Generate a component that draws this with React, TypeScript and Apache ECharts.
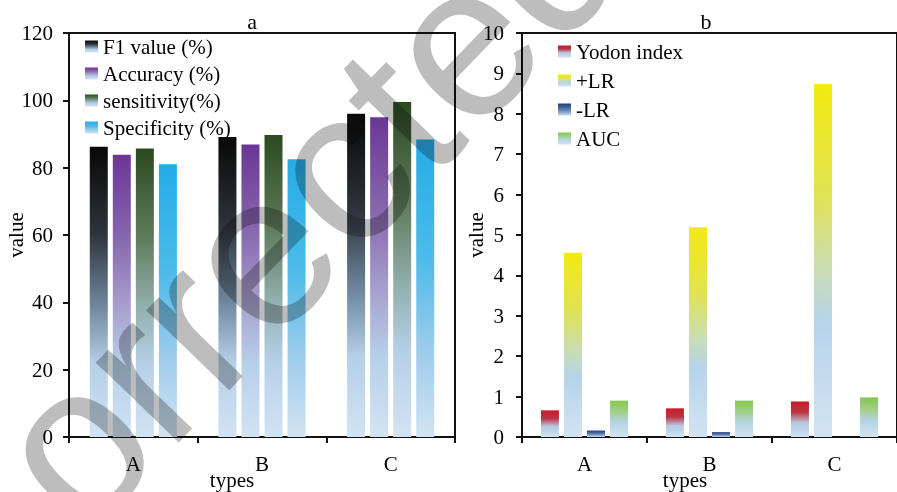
import React, { useEffect, useRef } from "react";
import * as echarts from "echarts";

const categories = ["A", "B", "C"];
const seriesNamesA = ["F1 value (%)", "Accuracy (%)", "sensitivity(%)", "Specificity (%)"];
const f1Value = [86.2, 89.1, 96.0];
const accuracy = [83.8, 86.9, 95.0];
const sensitivity = [85.7, 89.7, 99.5];
const specificity = [81.0, 82.5, 88.4];
const seriesNamesB = ["Yodon index", "+LR", "-LR", "AUC"];
const yodonIndex = [0.66, 0.71, 0.88];
const plusLR = [4.56, 5.19, 8.74];
const minusLR = [0.16, 0.12, 0];
const auc = [0.9, 0.9, 0.98];
const ticksA = { min: 0, max: 120, interval: 20 };
const ticksB = { min: 0, max: 10, interval: 1 };

const SERIF = '"Liberation Serif", "Times New Roman", serif';
const INK = "#111";

const grad = (stops: [number, string][]) =>
  new echarts.graphic.LinearGradient(
    0, 0, 0, 1,
    stops.map(([offset, color]) => ({ offset, color }))
  );

const colorsA = [
  grad([[0, "#080808"], [0.3, "#2e343c"], [0.55, "#6f889f"], [0.75, "#b4cfe7"], [1, "#d2e3f3"]]),
  grad([[0, "#6b3696"], [0.3, "#8868ae"], [0.55, "#a8a2d0"], [0.75, "#b6d0ea"], [1, "#d2e3f3"]]),
  grad([[0, "#2c4a20"], [0.3, "#5c7a58"], [0.55, "#92b0ae"], [0.75, "#b6d0e8"], [1, "#d2e3f3"]]),
  grad([[0, "#24ace6"], [0.4, "#4dbbea"], [0.7, "#9ccbec"], [1, "#d2e3f3"]]),
];
const colorsB = [
  grad([[0, "#c81c26"], [0.3, "#bc3444"], [0.6, "#bcc6de"], [0.75, "#b8d2ea"], [1, "#d2e3f3"]]),
  grad([[0, "#f2ea10"], [0.3, "#e2e250"], [0.55, "#c6dcbc"], [0.67, "#b6d3ea"], [1, "#d2e3f3"]]),
  grad([[0, "#1d3b7c"], [0.5, "#5a7ab0"], [1, "#c4daf0"]]),
  grad([[0, "#80c84c"], [0.3, "#a0cf88"], [0.6, "#b6d4e4"], [1, "#d2e3f3"]]),
];

const axisText = { fontFamily: SERIF, fontSize: 21, color: "#000" };

function xAxisFor(gridIndex: number) {
  return {
    type: "category",
    gridIndex,
    data: categories,
    axisLine: { show: true, lineStyle: { color: INK, width: 2 } },
    axisTick: { show: true, length: 6, lineStyle: { color: INK, width: 2 } },
    axisLabel: { ...axisText, margin: 16 },
    splitLine: { show: false },
  };
}

function yAxisFor(gridIndex: number, t: { min: number; max: number; interval: number }, margin: number) {
  return {
    type: "value",
    gridIndex,
    min: t.min,
    max: t.max,
    interval: t.interval,
    axisLine: { show: true, lineStyle: { color: INK, width: 2 } },
    axisTick: { show: true, length: 6, lineStyle: { color: INK, width: 2 } },
    axisLabel: { ...axisText, margin },
    splitLine: { show: false },
  };
}

function barSeries(name: string, data: number[], color: any, idx: number) {
  return {
    type: "bar",
    name,
    data,
    xAxisIndex: idx,
    yAxisIndex: idx,
    barWidth: 18,
    barGap: "28%",
    itemStyle: { color },
  };
}

function label(text: string, x: number, y: number, rotation = 0, size = 21) {
  return {
    type: "text",
    x,
    y,
    rotation,
    z: 10,
    style: {
      text,
      fontFamily: SERIF,
      fontSize: size,
      fill: "#000",
      textAlign: "center",
      textVerticalAlign: "middle",
      align: "center",
      verticalAlign: "middle",
    },
  };
}

export default function App() {
  const ref = useRef<HTMLDivElement>(null);

  useEffect(() => {
    document.body.style.margin = "0";
    if (!ref.current) return;
    const chart = echarts.init(ref.current, null, { renderer: "svg" });
    const legendCommon = {
      orient: "vertical",
      icon: "rect",
      itemWidth: 13,
      itemHeight: 12,
      textStyle: { fontFamily: SERIF, fontSize: 21, lineHeight: 21, color: "#000" },
      selectedMode: false,
    };
    chart.setOption({
      animation: false,
      backgroundColor: "#fff",
      grid: [
        { left: 69, top: 33, width: 386, height: 404, show: true, borderColor: INK, borderWidth: 2, backgroundColor: "transparent" },
        { left: 522, top: 33, width: 385, height: 404, show: true, borderColor: INK, borderWidth: 2, backgroundColor: "transparent" },
      ],
      xAxis: [xAxisFor(0), xAxisFor(1)],
      yAxis: [yAxisFor(0, ticksA, 16), yAxisFor(1, ticksB, 18)],
      legend: [
        { ...legendCommon, data: seriesNamesA, left: 80, top: 31, itemGap: 6 },
        { ...legendCommon, data: seriesNamesB, left: 553, top: 36, itemGap: 8 },
      ],
      series: [
        barSeries(seriesNamesA[0], f1Value, colorsA[0], 0),
        barSeries(seriesNamesA[1], accuracy, colorsA[1], 0),
        barSeries(seriesNamesA[2], sensitivity, colorsA[2], 0),
        barSeries(seriesNamesA[3], specificity, colorsA[3], 0),
        barSeries(seriesNamesB[0], yodonIndex, colorsB[0], 1),
        barSeries(seriesNamesB[1], plusLR, colorsB[1], 1),
        barSeries(seriesNamesB[2], minusLR, colorsB[2], 1),
        barSeries(seriesNamesB[3], auc, colorsB[3], 1),
      ],
      graphic: [
        label("a", 252, 21, 0, 22),
        label("b", 706, 21, 0, 22),
        label("types", 232, 480),
        label("types", 685, 480),
        label("value", 16, 235, Math.PI / 2),
        label("value", 476, 235, Math.PI / 2),
        {
          type: "text",
          x: 253,
          y: 257,
          rotation: (46 * Math.PI) / 180,
          z: 100,
          silent: true,
          style: {
            text: "Corrected",
            fontFamily: '"Liberation Sans", Arial, sans-serif',
            fontSize: 218,
            fill: "#bdbdbd",
            textAlign: "center",
            textVerticalAlign: "middle",
            align: "center",
            verticalAlign: "middle",
          },
        },
      ],
    });
    const texts = ref.current.querySelectorAll("text");
    texts.forEach((t) => {
      if (t.textContent === "Corrected") {
        (t as SVGTextElement).style.mixBlendMode = "multiply";
      }
    });
    return () => chart.dispose();
  }, []);

  return <div ref={ref} style={{ width: 897, height: 492 }} />;
}
